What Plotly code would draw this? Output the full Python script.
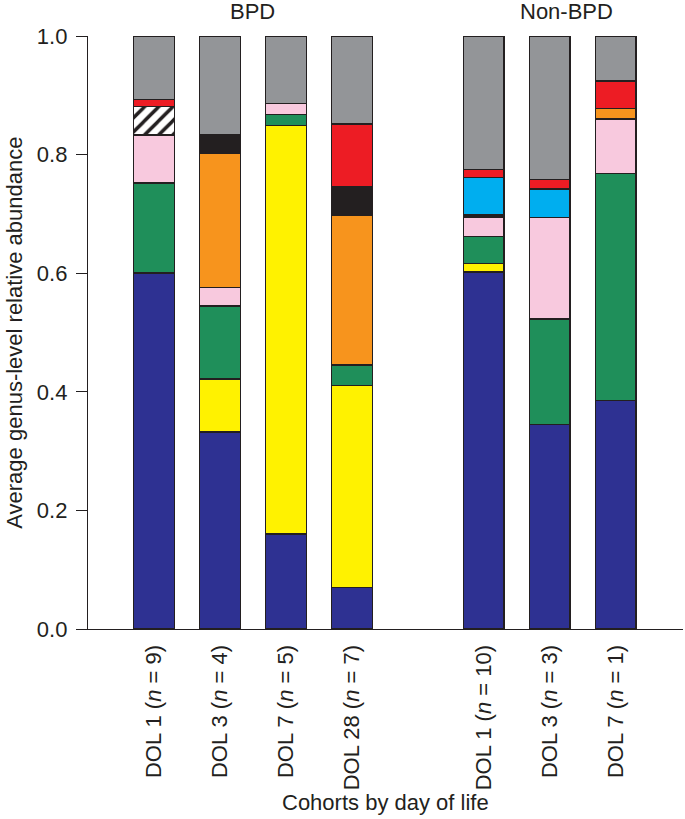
import plotly.graph_objects as go

# ---------------- data ----------------
cohorts = ["DOL 1 (<i>n</i> = 9)", "DOL 3 (<i>n</i> = 4)", "DOL 7 (<i>n</i> = 5)", "DOL 28 (<i>n</i> = 7)",
           "DOL 1 (<i>n</i> = 10)", "DOL 3 (<i>n</i> = 3)", "DOL 7 (<i>n</i> = 1)"]
positions = [0, 1, 2, 3, 5, 6, 7]
groups = ["BPD", "Non-BPD"]
group_centers = [1.5, 6.25]

navy = [0.600, 0.332, 0.160, 0.070, 0.602, 0.345, 0.385]
yellow = [None, 0.090, 0.689, 0.341, 0.014, None, None]
green = [0.152, 0.123, 0.019, 0.034, 0.046, 0.178, 0.383]
pink = [0.081, 0.031, 0.018, None, 0.032, 0.171, 0.092]
hatched = [0.048, None, None, None, None, None, None]
orange = [None, 0.226, None, 0.252, None, None, 0.018]
black = [None, 0.032, None, 0.049, 0.004, None, None]
blue = [None, None, None, None, 0.063, 0.048, None]
red = [0.012, None, None, 0.106, 0.014, 0.016, 0.046]
gray = [0.107, 0.166, 0.114, 0.148, 0.225, 0.242, 0.076]

series = [
    ("navy", navy, "#2e3192", ""),
    ("yellow", yellow, "#fff200", ""),
    ("green", green, "#1f8f5a", ""),
    ("pink", pink, "#f8c9de", ""),
    ("hatched", hatched, "#ffffff", "/"),
    ("orange", orange, "#f7941d", ""),
    ("black", black, "#231f20", ""),
    ("blue", blue, "#00aeef", ""),
    ("red", red, "#ed1c24", ""),
    ("gray", gray, "#939598", ""),
]

y_ticks = [0.0, 0.2, 0.4, 0.6, 0.8, 1.0]
y_ticktext = ["0.0", "0.2", "0.4", "0.6", "0.8", "1.0"]

FONT = "Liberation Sans, Arial, sans-serif"
TXT = "#231f20"
FS = 22

fig = go.Figure()
for name, vals, col, shape in series:
    marker = dict(color=col, line=dict(color="#231f20", width=1.5))
    if shape:
        marker["pattern"] = dict(shape=shape, fgcolor="#231f20", bgcolor="#ffffff",
                                 fgopacity=1, size=10, solidity=0.35, fillmode="replace")
    fig.add_trace(go.Bar(x=positions, y=vals, name=name, marker=marker, width=0.62,
                         showlegend=False))

fig.update_layout(
    barmode="stack",
    width=685, height=819,
    margin=dict(l=88, r=2, t=36, b=190),
    paper_bgcolor="white", plot_bgcolor="white",
    font=dict(family=FONT, size=FS, color=TXT),
    xaxis=dict(range=[-1, 8.02], tickmode="array", tickvals=positions, ticktext=cohorts,
               tickangle=-90, showline=True, linecolor="#231f20", linewidth=1.3,
               ticks="", showgrid=False, zeroline=False, ticklabelstandoff=6),
    yaxis=dict(range=[0, 1.0], tickmode="array", tickvals=y_ticks, ticktext=y_ticktext,
               showline=True, linecolor="#231f20", linewidth=1.3, ticks="outside",
               ticklen=11, tickwidth=1.3, tickcolor="#231f20", showgrid=False,
               zeroline=False, ticklabelstandoff=4),
)

annotations = []
for g, c in zip(groups, group_centers):
    annotations.append(dict(x=c, y=1.0405, xref="x", yref="paper", text=g, showarrow=False,
                            font=dict(size=FS, family=FONT, color=TXT), yanchor="middle"))
annotations.append(dict(x=0.5, y=-0.2934, xref="paper", yref="paper", text="Cohorts by day of life",
                        showarrow=False, font=dict(size=FS, family=FONT, color=TXT), yanchor="middle"))
annotations.append(dict(x=-0.124, y=0.5, xref="paper", yref="paper",
                        text="Average genus-level relative abundance", textangle=-90,
                        showarrow=False, font=dict(size=FS, family=FONT, color=TXT),
                        xanchor="center", yanchor="middle"))
fig.update_layout(annotations=annotations)

fig.write_html("out.html", config={"displayModeBar": False},
               post_script="document.body.style.margin='0';document.body.style.padding='0';")
